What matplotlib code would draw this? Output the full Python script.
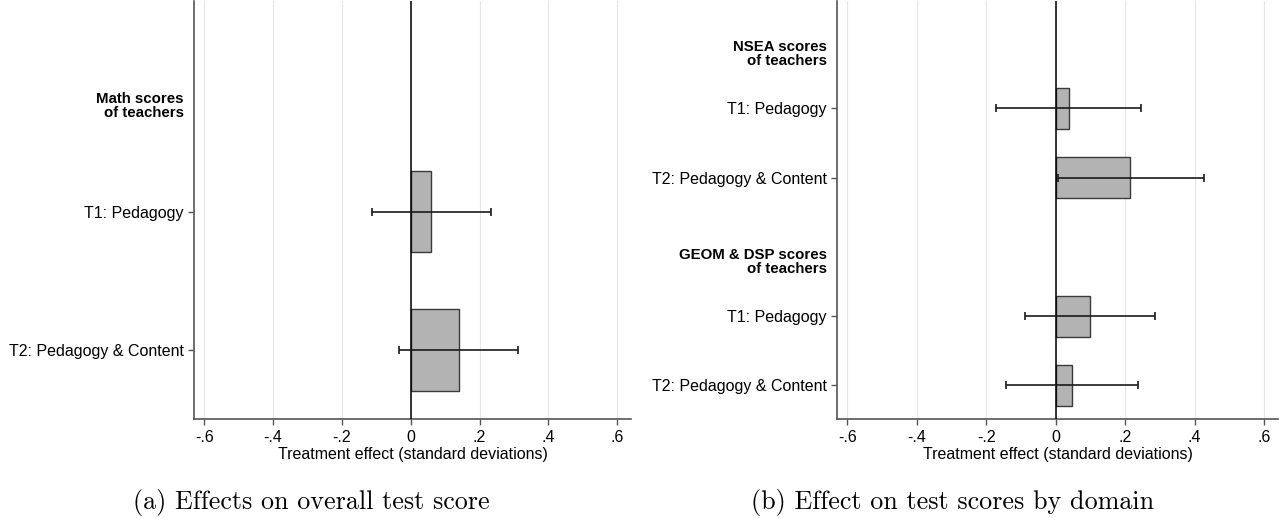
import numpy as np
import matplotlib.pyplot as plt

plt.rcParams['font.family'] = ['Liberation Sans', 'DejaVu Sans']

# panel (a): overall test score
a_labels = ['T1: Pedagogy', 'T2: Pedagogy & Content']
a_pos = [1, 2]
a_est = [0.058, 0.139]
a_lo = [-0.114, -0.035]
a_hi = [0.234, 0.312]
a_headers = ['Math scores\nof teachers']
a_header_pos = [0.236]

# panel (b): by domain
b_labels = ['T1: Pedagogy', 'T2: Pedagogy & Content', 'T1: Pedagogy', 'T2: Pedagogy & Content']
b_pos = [1, 2, 4, 5]
b_est = [0.037, 0.213, 0.098, 0.046]
b_lo = [-0.171, 0.006, -0.090, -0.143]
b_hi = [0.246, 0.428, 0.285, 0.237]
b_headers = ['NSEA scores\nof teachers', 'GEOM & DSP scores\nof teachers']
b_header_pos = [0.216, 3.22]

xticks = [-0.6, -0.4, -0.2, 0, 0.2, 0.4, 0.6]
xticklabels = ['-.6', '-.4', '-.2', '0', '.2', '.4', '.6']
captions = ['(a) Effects on overall test score', '(b) Effect on test scores by domain']

W, H = 1282, 518
fig = plt.figure(figsize=(W / 100, H / 100), dpi=100)


def panel(rect, labels, pos, est, lo, hi, headers, hpos, ylim):
    ax = fig.add_axes(rect)
    est = np.array(est)
    err = np.array([est - np.array(lo), np.array(hi) - est])
    for x in xticks:
        ax.axvline(x, color='#e6e6e6', lw=0.8, zorder=0)
    ax.barh(pos, est, height=0.59, color='#b3b3b3', edgecolor='#3a3a3a', lw=1.0, zorder=2)
    ax.axvline(0, color='black', lw=1.1, zorder=3)
    ax.errorbar(est, pos, xerr=err, fmt='none', ecolor='#1a1a1a', elinewidth=1.2,
                capsize=3, capthick=1.2, zorder=4)
    ax.set_xlim(-0.63, 0.64)
    ax.set_ylim(*ylim)
    ax.set_yticks(pos)
    ax.set_yticklabels(labels, fontsize=11.5)
    ax.set_xticks(xticks)
    ax.set_xticklabels(xticklabels, fontsize=11.5)
    ax.set_xlabel('Treatment effect (standard deviations)', fontsize=11.5, labelpad=2)
    ax.tick_params(axis='both', length=4, width=1, color='#555555', pad=3.5)
    for s in ['top', 'right']:
        ax.spines[s].set_visible(False)
    for s in ['left', 'bottom']:
        ax.spines[s].set_color('#555555')
        ax.spines[s].set_linewidth(1.2)
    # group headings, bold, right-aligned next to the tick labels
    for h, y in zip(headers, hpos):
        ax.annotate(h, xy=(0, y), xycoords=ax.get_yaxis_transform(), xytext=(-7.5, 0),
                    textcoords='offset points', ha='right', va='center',
                    fontsize=10.8, fontweight='bold', linespacing=1.0)
    return ax


bottom = (H - 419.3) / H
height = (419.3 - 1) / H
panel([194 / W, bottom, (631 - 194) / W, height], a_labels, a_pos, a_est, a_lo, a_hi,
      a_headers, a_header_pos, (2.501, -0.523))
panel([837 / W, bottom, (1278 - 837) / W, height], b_labels, b_pos, b_est, b_lo, b_hi,
      b_headers, b_header_pos, (5.49, -0.549))

fig.text(311 / W, 1 - 502 / H, captions[0], family='cmr10', fontsize=18.8, ha='center', va='center')
fig.text(953 / W, 1 - 502 / H, captions[1], family='cmr10', fontsize=18.8, ha='center', va='center')

fig.savefig('out.png', dpi=100)
